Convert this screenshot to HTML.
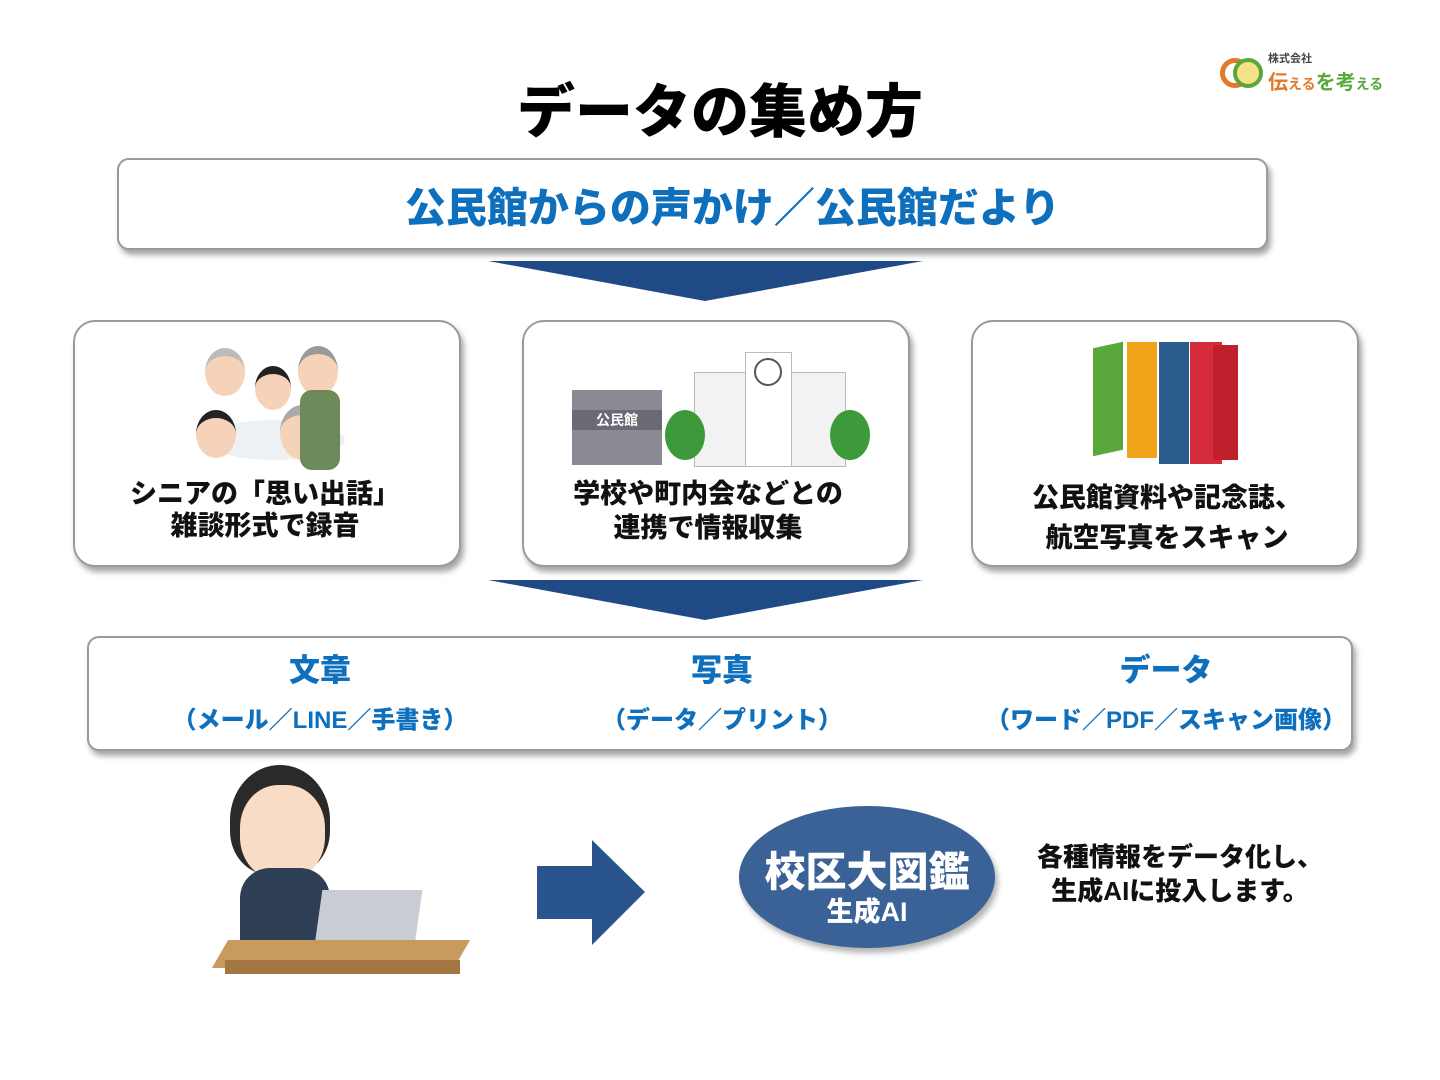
<!DOCTYPE html>
<html><head><meta charset="utf-8"><style>
body{margin:0;width:1440px;height:1080px;background:#fff;position:relative;overflow:hidden;font-family:"Liberation Sans","Noto Sans CJK JP",sans-serif;font-weight:bold}
.a{position:absolute}
.box{position:absolute;background:#fff;border:2px solid #9a9a9a;border-radius:22px;box-shadow:3px 5px 6px rgba(0,0,0,.35)}
.t{position:absolute;text-align:center;white-space:nowrap}
.blue{color:#0e6fbd}
</style></head><body>
<div class="t" style="left:0;width:1440px;top:65px;font-size:58px;font-weight:900;color:#000">データの集め方</div>
<div class="t" style="top:50px;font-size:11px;color:#444;left:1268px">株式会社</div>
<div class="a" style="left:1220px;top:58px;width:30px;height:30px;border:5px solid #e07a2a;border-radius:50%;box-sizing:border-box"></div>
<div class="a" style="left:1233px;top:58px;width:30px;height:30px;background:#f6e08a;border:4px solid #5aa83c;border-radius:50%;box-sizing:border-box"></div>
<div class="t" style="left:1268px;top:66px;font-size:20px;color:#e07a2a">伝<span style="font-size:14px">える</span><span style="color:#5aa83c">を考<span style="font-size:14px">える</span></span></div>

<div class="box" style="left:117px;top:158px;width:1147px;height:88px;border-radius:12px"></div>
<div class="t blue" style="left:197px;width:1071px;top:174px;font-size:41px;font-weight:900">公民館からの声かけ／公民館だより</div>

<svg class="a" style="left:0;top:0" width="1440" height="1080">
<polygon points="488,261 923,261 705,301" fill="#1f4a86"/>
<polygon points="488,580 923,580 705,620" fill="#1f4a86"/>
<polygon points="537,866 592,866 592,840 645,892 592,945 592,919 537,919" fill="#2a548e"/>
</svg>

<div class="box" style="left:73px;top:320px;width:384px;height:243px"></div>
<div class="box" style="left:522px;top:320px;width:384px;height:243px"></div>
<div class="box" style="left:971px;top:320px;width:384px;height:243px"></div>

<div class="a" style="left:205px;top:420px;width:140px;height:40px;background:#eef1f4;border-radius:50%"></div>
<div class="a" style="left:205px;top:348px;width:40px;height:40px;background:#f6d3b8;border-radius:50%;border-top:8px solid #bbb"></div>
<div class="a" style="left:298px;top:346px;width:40px;height:42px;background:#f6d3b8;border-radius:50%;border-top:8px solid #999"></div>
<div class="a" style="left:255px;top:366px;width:36px;height:36px;background:#f6d3b8;border-radius:50%;border-top:8px solid #222"></div>
<div class="a" style="left:196px;top:410px;width:40px;height:40px;background:#f6d3b8;border-radius:50%;border-top:8px solid #222"></div>
<div class="a" style="left:280px;top:405px;width:45px;height:45px;background:#f6d3b8;border-radius:50%;border-top:10px solid #aaa"></div>
<div class="a" style="left:300px;top:390px;width:40px;height:80px;background:#6c8a5a;border-radius:12px"></div>
<div class="t" style="left:73px;width:384px;top:478px;font-size:27px;line-height:32px;color:#111;font-weight:900">シニアの「思い出話」<br>雑談形式で録音</div>

<div class="a" style="left:572px;top:390px;width:90px;height:75px;background:#8a8a94"></div>
<div class="a" style="left:572px;top:410px;width:90px;height:20px;background:#6a6a74;color:#fff;font-size:14px;text-align:center">公民館</div>
<div class="a" style="left:694px;top:372px;width:150px;height:93px;background:#f2f2f2;border:1px solid #bbb"></div>
<div class="a" style="left:745px;top:352px;width:45px;height:113px;background:#fff;border:1px solid #bbb"></div>
<div class="a" style="left:754px;top:358px;width:24px;height:24px;border:2px solid #555;border-radius:50%"></div>
<div class="a" style="left:665px;top:410px;width:40px;height:50px;background:#3d9a3a;border-radius:50%"></div>
<div class="a" style="left:830px;top:410px;width:40px;height:50px;background:#3d9a3a;border-radius:50%"></div>
<div class="t" style="left:516px;width:384px;top:477px;font-size:27px;line-height:34px;color:#111;font-weight:900">学校や町内会などとの<br>連携で情報収集</div>

<div class="a" style="left:1093px;top:345px;width:30px;height:108px;background:#5aa83c;transform:skewY(-12deg)"></div>
<div class="a" style="left:1127px;top:342px;width:30px;height:116px;background:#f0a41a"></div>
<div class="a" style="left:1159px;top:342px;width:30px;height:122px;background:#2a5d8c"></div>
<div class="a" style="left:1190px;top:342px;width:32px;height:122px;background:#d62b3a"></div>
<div class="a" style="left:1213px;top:345px;width:25px;height:115px;background:#c0202e"></div>
<div class="t" style="left:975px;width:384px;top:478px;font-size:27px;line-height:40px;color:#111;font-weight:900">公民館資料や記念誌、<br>航空写真をスキャン</div>

<div class="box" style="left:87px;top:636px;width:1262px;height:111px;border-radius:12px"></div>
<div class="t blue" style="left:220px;width:200px;top:645px;font-size:31px;font-weight:900">文章</div>
<div class="t blue" style="left:170px;width:300px;top:700px;font-size:24px;font-weight:900">（メール／LINE／手書き）</div>
<div class="t blue" style="left:622px;width:200px;top:645px;font-size:31px;font-weight:900">写真</div>
<div class="t blue" style="left:572px;width:300px;top:700px;font-size:24px;font-weight:900">（データ／プリント）</div>
<div class="t blue" style="left:1066px;width:200px;top:645px;font-size:31px;font-weight:900">データ</div>
<div class="t blue" style="left:966px;width:400px;top:700px;font-size:24px;font-weight:900">（ワード／PDF／スキャン画像）</div>

<div class="a" style="left:230px;top:765px;width:100px;height:110px;background:#2a2a2a;border-radius:50% 50% 40% 40%"></div>
<div class="a" style="left:240px;top:785px;width:85px;height:95px;background:#f9dcc6;border-radius:45%"></div>
<div class="a" style="left:240px;top:868px;width:90px;height:75px;background:#2d3e55;border-radius:30px 30px 0 0"></div>
<div class="a" style="left:318px;top:890px;width:100px;height:62px;background:#c9ccd2;transform:skewX(-8deg)"></div>
<div class="a" style="left:220px;top:940px;width:242px;height:28px;background:#c99a5e;transform:skewX(-30deg)"></div>
<div class="a" style="left:225px;top:960px;width:235px;height:14px;background:#a37540"></div>

<div class="a" style="left:739px;top:806px;width:256px;height:142px;background:#3a6296;border-radius:50%;box-shadow:3px 5px 6px rgba(0,0,0,.3)"></div>
<div class="t" style="left:739px;width:256px;top:838px;font-size:41px;color:#fff;font-weight:900">校区大図鑑</div>
<div class="t" style="left:739px;width:256px;top:890px;font-size:27px;color:#fff;font-weight:900">生成AI</div>
<div class="t" style="left:1025px;width:310px;top:840px;font-size:26px;line-height:34px;color:#111;font-weight:900">各種情報をデータ化し、<br>生成AIに投入します。</div>
</body></html>
